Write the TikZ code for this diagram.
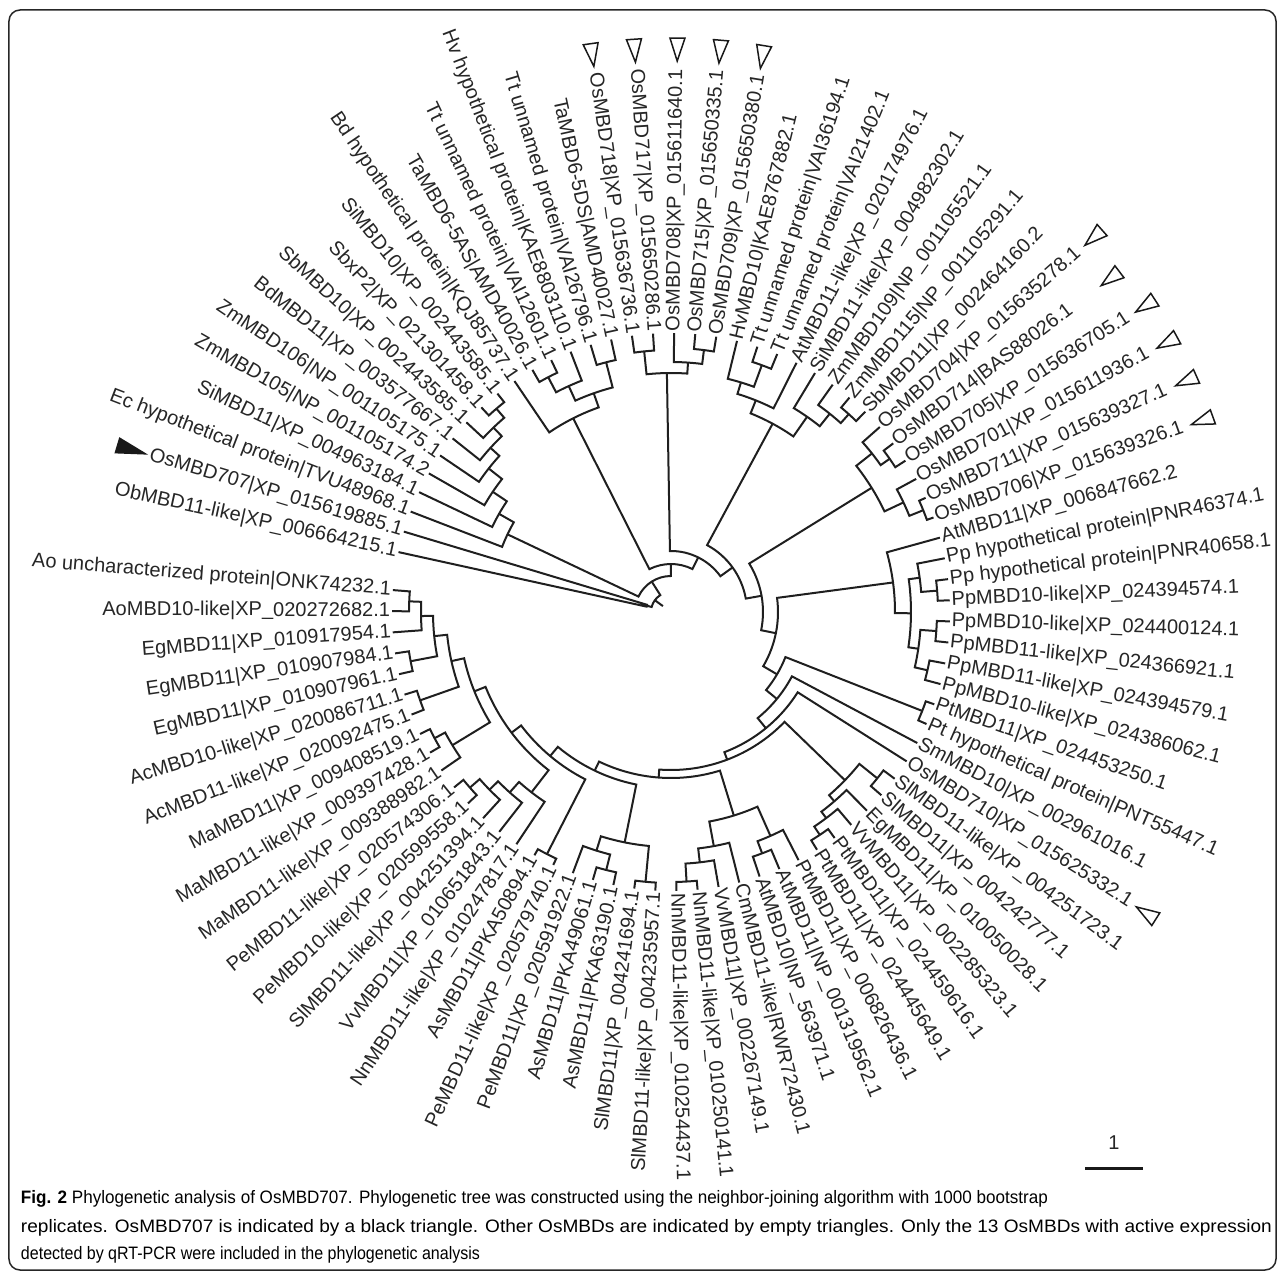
\documentclass[tikz,border=0pt]{standalone}
\usepackage{fontspec}
\setmainfont{Liberation Sans}
\usepackage{graphicx}
\newcommand\Rtip{279}
\tikzset{
  br/.style={line width=2pt, draw=black!88, line join=miter},
  lab/.style={font=\fontsize{20}{22}\selectfont, text=black!85, inner sep=0pt, outer sep=0pt},
  tri/.style={line width=1.5pt, draw=black!90, line join=miter},
  capline/.style={anchor=base west, inner sep=0pt, outer sep=0pt},
}
\newcommand\Nd[5]{%
  \pgfmathsetmacro\nda{167.6-4.347*((#1)-1)}%
  \pgfmathsetmacro\ndb{167.6-4.347*((#3)-1)}%
  \draw[br] (\nda:#2pt) -- (\nda:#5pt) arc[start angle=\nda, end angle=\ndb, radius=#5pt] -- (\ndb:#4pt);}
\newcommand\Rad[3]{%
  \pgfmathsetmacro\rda{167.6-4.347*((#1)-1)}%
  \draw[br] (\rda:#2pt) -- (\rda:#3pt);}
\newcommand\Lf[2]{%
  \pgfmathsetmacro\lfa{167.6-4.347*((#1)-1)}%
  \pgfmathsetmacro\lfc{cos(\lfa)}%
  \ifdim\lfc pt<0pt
    \node[lab, anchor=east, rotate=\lfa+180] (L#1) at (\lfa:281pt) {#2};%
  \else
    \node[lab, anchor=west, rotate=\lfa] (L#1) at (\lfa:281pt) {#2};%
  \fi}
\newcommand\Tri[4]{%
  \pgfmathsetmacro\tra{167.6-4.347*((#1)-1)}%
  \pgfmathsetmacro\trd{7.5/(#3)*57.2958}%
  \pgfmathsetmacro\trp{\tra+\trd}%
  \pgfmathsetmacro\trm{\tra-\trd}%
  \draw[tri, fill=#4] (\tra:#2pt) -- (\trp:#3pt) -- (\trm:#3pt) -- cycle;}

\begin{document}
\begin{tikzpicture}
\useasboundingbox (-671pt,-668pt) rectangle (614pt,612pt);
\draw[line width=1.5pt, black!85, rounded corners=11pt] (-662pt,602pt) rectangle (605pt,-658pt);

% ---- root and inner spiral
\Rad{6.454067}{10}{20}
\Nd{1}{\Rtip}{2}{\Rtip}{25}
\Nd{1.5}{25}{11.408133}{36}{20}
\Nd{3.9921875}{181}{18.824078}{48}{36}
\Nd{12.6875}{217}{24.960655}{61}{48}
\Nd{18.625}{239}{31.29631}{76}{61}
\Nd{25.375}{214}{37.217621}{92}{76}
\Nd{32.25}{236}{42.185242}{107}{92}
\Nd{37.8125}{224}{46.557983}{123}{107}
\Nd{44.5}{270}{48.615967}{137}{123}
\Nd{46}{\Rtip}{51.231934}{150}{137}
\Nd{47}{\Rtip}{55.463867}{158}{150}
\Nd{49.6875}{242}{61.240234}{166}{158}
\Nd{56.3125}{213}{66.167969}{176}{166}
\Nd{62.875}{235}{69.460938}{188}{176}
\Nd{66.5}{272}{72.421875}{200}{188}
\Nd{68.9375}{228}{75.90625}{212}{200}
\Nd{73.75}{256}{78.0625}{225}{212}
\Nd{76.5}{266}{79.625}{238}{225}
\Nd{78.5}{265}{80.75}{250}{238}
\Nd{80}{\Rtip}{81.5}{262}{250}

% ---- G2 ladder
\Nd{9}{\Rtip}{10}{\Rtip}{268}
\Nd{8}{\Rtip}{9.5}{268}{256}
\Nd{7}{\Rtip}{8.75}{256}{244}
\Nd{6}{\Rtip}{7.875}{244}{232}
\Nd{5}{\Rtip}{6.9375}{232}{215}
\Nd{4}{\Rtip}{5.96875}{215}{198}
\Nd{3}{\Rtip}{4.984375}{198}{181}
% ---- Ta clade
\Nd{12}{\Rtip}{13}{\Rtip}{265}
\Nd{12.5}{265}{14}{\Rtip}{248}
\Nd{15}{\Rtip}{16}{\Rtip}{258}
\Nd{13.25}{248}{15.5}{258}{232}
\Nd{11}{\Rtip}{14.375}{232}{217}
% ---- Os top
\Nd{17}{\Rtip}{18}{\Rtip}{262}
\Nd{20}{\Rtip}{21}{\Rtip}{264}
\Nd{19}{\Rtip}{20.5}{264}{250}
\Nd{17.5}{262}{19.75}{250}{239}
% ---- upper right
\Nd{23}{\Rtip}{24}{\Rtip}{263}
\Nd{22}{\Rtip}{23.5}{263}{240}
\Nd{22.75}{240}{25}{\Rtip}{228}
\Nd{28}{\Rtip}{29}{\Rtip}{266}
\Nd{27}{\Rtip}{28.5}{266}{254}
\Nd{26}{\Rtip}{27.75}{254}{238}
\Nd{23.875}{228}{26.875}{238}{214}
% ---- Os704 clade
\Nd{31}{\Rtip}{32}{\Rtip}{267}
\Nd{30}{\Rtip}{31.5}{267}{256}
\Nd{34}{\Rtip}{35}{\Rtip}{272}
\Nd{33}{\Rtip}{34.5}{272}{257}
\Nd{30.75}{256}{33.75}{257}{236}
% ---- At / Pp
\Nd{38}{\Rtip}{39}{\Rtip}{267}
\Nd{37}{\Rtip}{38.5}{267}{251}
\Nd{40}{\Rtip}{41}{\Rtip}{266}
\Nd{42}{\Rtip}{43}{\Rtip}{263}
\Nd{40.5}{266}{42.5}{263}{250}
\Nd{37.75}{251}{41.5}{250}{240}
\Nd{36}{\Rtip}{39.625}{240}{224}
\Nd{44}{\Rtip}{45}{\Rtip}{270}
% ---- eudicots right
\Nd{48}{\Rtip}{49}{\Rtip}{265}
\Nd{52}{\Rtip}{53}{\Rtip}{268}
\Nd{51}{\Rtip}{52.5}{268}{258}
\Nd{50}{\Rtip}{51.75}{258}{250}
\Nd{48.5}{265}{50.875}{250}{242}
\Nd{55}{\Rtip}{56}{\Rtip}{258}
\Nd{54}{\Rtip}{55.5}{258}{245}
\Nd{59}{\Rtip}{60}{\Rtip}{270}
\Nd{58}{\Rtip}{59.5}{270}{252}
\Nd{57}{\Rtip}{58.75}{252}{238}
\Nd{54.75}{245}{57.875}{238}{213}
% ---- bottom
\Nd{61}{\Rtip}{62}{\Rtip}{271}
\Nd{63}{\Rtip}{64}{\Rtip}{266}
\Nd{63.5}{266}{65}{\Rtip}{250}
\Nd{61.5}{271}{64.25}{250}{235}
\Nd{66}{\Rtip}{67}{\Rtip}{272}
\Nd{71}{\Rtip}{72}{\Rtip}{267}
\Nd{70}{\Rtip}{71.5}{267}{254}
\Nd{69}{\Rtip}{70.75}{254}{242}
\Nd{68}{\Rtip}{69.875}{242}{228}
\Nd{74}{\Rtip}{75}{\Rtip}{268}
\Nd{73}{\Rtip}{74.5}{268}{256}
\Nd{76}{\Rtip}{77}{\Rtip}{266}
\Nd{78}{\Rtip}{79}{\Rtip}{265}
\Nd{81}{\Rtip}{82}{\Rtip}{262}

% ---- labels
\Lf{1}{ObMBD11-like|XP\_006664215.1}
\Lf{2}{OsMBD707|XP\_015619885.1}
\Lf{3}{Ec hypothetical protein|TVU48968.1}
\Lf{4}{SiMBD11|XP\_004963184.1}
\Lf{5}{ZmMBD105|NP\_001105174.2}
\Lf{6}{ZmMBD106|NP\_001105175.1}
\Lf{7}{BdMBD11|XP\_003577667.1}
\Lf{8}{SbMBD10|XP\_002443585.1}
\Lf{9}{SbxP2|XP\_021301458.1}
\Lf{10}{SiMBD10|XP\_002443585.1}
\Lf{11}{Bd hypothetical protein|KQJ85737.1}
\Lf{12}{TaMBD6-5AS|AMD40026.1}
\Lf{13}{Tt unnamed protein|VAI12601.1}
\Lf{14}{Hv hypothetical protein|KAE8803110.1}
\Lf{15}{Tt unnamed protein|VAI26796.1}
\Lf{16}{TaMBD6-5DS|AMD40027.1}
\Lf{17}{OsMBD718|XP\_015636736.1}
\Lf{18}{OsMBD717|XP\_015650286.1}
\Lf{19}{OsMBD708|XP\_015611640.1}
\Lf{20}{OsMBD715|XP\_015650335.1}
\Lf{21}{OsMBD709|XP\_015650380.1}
\Lf{22}{HvMBD10|KAE8767882.1}
\Lf{23}{Tt unnamed protein|VAI36194.1}
\Lf{24}{Tt unnamed protein|VAI21402.1}
\Lf{25}{AtMBD11-like|XP\_020174976.1}
\Lf{26}{SiMBD11-like|XP\_004982302.1}
\Lf{27}{ZmMBD109|NP\_001105521.1}
\Lf{28}{ZmMBD115|NP\_001105291.1}
\Lf{29}{SbMBD11|XP\_002464160.2}
\Lf{30}{OsMBD704|XP\_015635278.1}
\Lf{31}{OsMBD714|BAS88026.1}
\Lf{32}{OsMBD705|XP\_015636705.1}
\Lf{33}{OsMBD701|XP\_015611936.1}
\Lf{34}{OsMBD711|XP\_015639327.1}
\Lf{35}{OsMBD706|XP\_015639326.1}
\Lf{36}{AtMBD11|XP\_006847662.2}
\Lf{37}{Pp hypothetical protein|PNR46374.1}
\Lf{38}{Pp hypothetical protein|PNR40658.1}
\Lf{39}{PpMBD10-like|XP\_024394574.1}
\Lf{40}{PpMBD10-like|XP\_024400124.1}
\Lf{41}{PpMBD11-like|XP\_024366921.1}
\Lf{42}{PpMBD11-like|XP\_024394579.1}
\Lf{43}{PpMBD10-like|XP\_024386062.1}
\Lf{44}{PtMBD11|XP\_024453250.1}
\Lf{45}{Pt hypothetical protein|PNT55447.1}
\Lf{46}{SmMBD10|XP\_002961016.1}
\Lf{47}{OsMBD710|XP\_015625332.1}
\Lf{48}{SlMBD11-like|XP\_004251723.1}
\Lf{49}{SlMBD11|XP\_004242777.1}
\Lf{50}{EgMBD11|XP\_010050028.1}
\Lf{51}{VvMBD11|XP\_002285323.1}
\Lf{52}{PtMBD11|XP\_024459616.1}
\Lf{53}{PtMBD11|XP\_024445649.1}
\Lf{54}{PtMBD11|XP\_006826436.1}
\Lf{55}{AtMBD11|NP\_001319562.1}
\Lf{56}{AtMBD10|NP\_563971.1}
\Lf{57}{CmMBD11-like|RWR72430.1}
\Lf{58}{VvMBD11|XP\_002267149.1}
\Lf{59}{NnMBD11-like|XP\_010250141.1}
\Lf{60}{NnMBD11-like|XP\_010254437.1}
\Lf{61}{SlMBD11-like|XP\_004235957.1}
\Lf{62}{SlMBD11|XP\_004241694.1}
\Lf{63}{AsMBD11|PKA63190.1}
\Lf{64}{AsMBD11|PKA49061.1}
\Lf{65}{PeMBD11|XP\_020591922.1}
\Lf{66}{PeMBD11-like|XP\_020579740.1}
\Lf{67}{AsMBD11|PKA50894.1}
\Lf{68}{NnMBD11-like|XP\_010247817.1}
\Lf{69}{VvMBD11|XP\_010651843.1}
\Lf{70}{SlMBD11-like|XP\_004251394.1}
\Lf{71}{PeMBD10-like|XP\_020599558.1}
\Lf{72}{PeMBD11-like|XP\_020574306.1}
\Lf{73}{MaMBD11-like|XP\_009388982.1}
\Lf{74}{MaMBD11-like|XP\_009397428.1}
\Lf{75}{MaMBD11|XP\_009408519.1}
\Lf{76}{AcMBD11-like|XP\_020092475.1}
\Lf{77}{AcMBD10-like|XP\_020086711.1}
\Lf{78}{EgMBD11|XP\_010907961.1}
\Lf{79}{EgMBD11|XP\_010907984.1}
\Lf{80}{EgMBD11|XP\_010917954.1}
\Lf{81}{AoMBD10-like|XP\_020272682.1}
\Lf{82}{Ao uncharacterized protein|ONK74232.1}

% ---- triangles
\Tri{2}{549}{578}{black!90}
\Tri{17}{551}{574}{white}
\Tri{18}{551}{574}{white}
\Tri{19}{551}{574}{white}
\Tri{20}{551}{574}{white}
\Tri{21}{551}{574}{white}
\Tri{30}{553}{576}{white}
\Tri{31}{540}{563}{white}
\Tri{32}{553}{576}{white}
\Tri{33}{553}{576}{white}
\Tri{34}{553}{576}{white}
\Tri{35}{553}{576}{white}
\Tri{47}{551}{574}{white}

% ---- scale bar
\draw[line width=3pt, black!90] (414pt,-556pt) -- (472pt,-556pt);
\node[lab, anchor=base] (sc) at (443pt,-537pt) {1};

% ---- caption
\node[capline] (c1) at (-650pt,-591pt) {\resizebox{1027pt}{\height}{\fontsize{18}{21}\selectfont\textbf{Fig. 2} Phylogenetic analysis of OsMBD707. Phylogenetic tree was constructed using the neighbor-joining algorithm with 1000 bootstrap}};
\node[capline] (c2) at (-650pt,-620pt) {\resizebox{1251pt}{\height}{\fontsize{18}{21}\selectfont replicates. OsMBD707 is indicated by a black triangle. Other OsMBDs are indicated by empty triangles. Only the 13 OsMBDs with active expression}};
\node[capline] (c3) at (-650pt,-647pt) {\resizebox{459pt}{\height}{\fontsize{18}{21}\selectfont detected by qRT-PCR were included in the phylogenetic analysis}};
\end{tikzpicture}
\end{document}
